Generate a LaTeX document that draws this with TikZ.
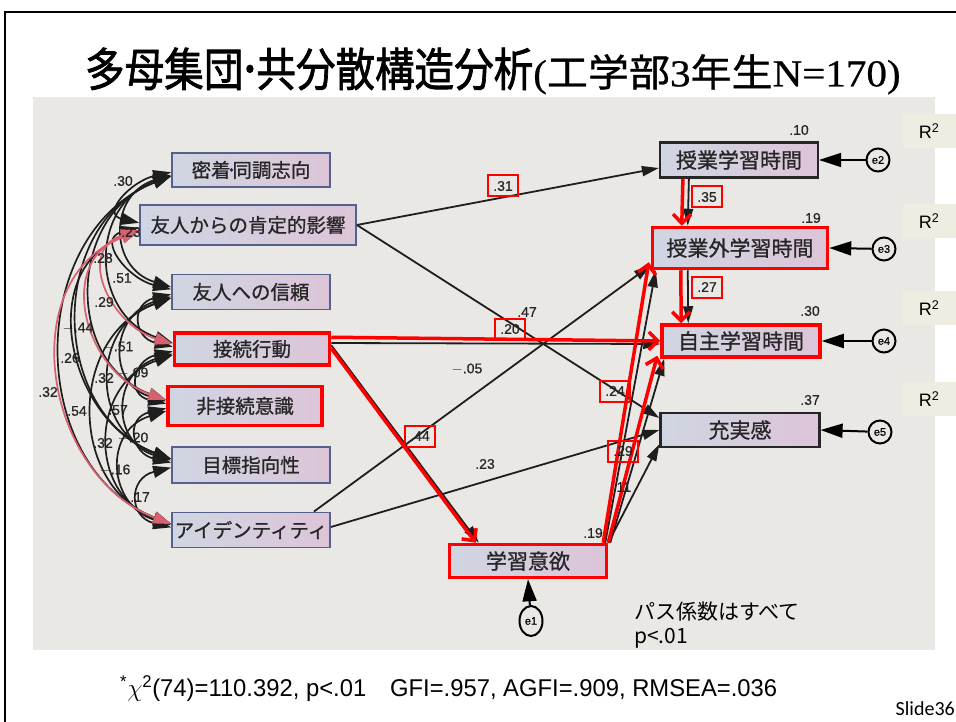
\documentclass[tikz,border=0pt]{standalone}
\usepackage{fontspec}
\setmainfont{Liberation Sans}
\newfontfamily\jp{Noto Sans CJK JP}
\newfontfamily\jpm[FakeBold=0.9]{Noto Sans CJK JP}
\newfontfamily\jpt[FakeBold=1.6]{Noto Sans CJK JP}
\newfontfamily\jps[FakeBold=0.8]{Noto Sans CJK JP}
\newfontfamily\tnrb[FakeBold=0.6]{Liberation Serif}
\newfontfamily\lab{Liberation Sans}
\newfontfamily\labm[FakeBold=0.6]{Liberation Sans}
\newfontfamily\slidefont{Carlito}
\usetikzlibrary{arrows.meta,calc,shapes.geometric}
\pgfdeclarelayer{bg}
\pgfsetlayers{bg,main}
\definecolor{photo}{HTML}{EAE8E5}
\definecolor{boxL}{HTML}{D0D5E2}
\definecolor{boxR}{HTML}{DCC5D8}
\definecolor{lline}{HTML}{56608C}
\definecolor{txtc}{HTML}{262626}
\definecolor{covk}{HTML}{1E1E1E}
\definecolor{covr}{HTML}{D8616F}
\definecolor{rbox}{HTML}{EFEDE2}
\definecolor{hl}{HTML}{FF0000}
\begin{document}
\begin{tikzpicture}[x=1pt,y=-1pt,
  lvar/.style={draw=lline, line width=1.8pt, left color=boxL, right color=boxR,
    font=\jpm\fontsize{19.5}{20}\selectfont, text=txtc, inner sep=0pt},
  rvar/.style={draw=black!85, line width=2.2pt, left color=boxL, right color=boxR,
    font=\jpm\fontsize{21}{22}\selectfont, text=txtc, inner sep=0pt},
  hlbox/.style={draw=hl, line width=3.5pt},
  cov/.style={line width=1.7pt, {Triangle[length=18pt,width=12pt]}-{Triangle[length=18pt,width=12pt]}},
  pth/.style={draw=covk, line width=1.8pt, -{Triangle[length=17pt,width=10pt]}},
  hlpath/.style={draw=hl, line width=3.5pt, -{Straight Barb[length=9pt,width=18pt]}},
  errc/.style={ellipse, draw=black, line width=2pt, minimum width=23pt, minimum height=23pt,
    inner sep=0pt, fill=photo, font=\labm\fontsize{11}{11}\selectfont},
  errpath/.style={draw=black, line width=2pt, -{Triangle[length=22pt,width=14pt]}},
  val/.style={font=\labm\fontsize{14}{14}\selectfont, text=txtc, inner sep=1pt},
  lbox/.style={val, draw=hl, line width=2pt, minimum width=30pt, minimum height=21pt, inner sep=0pt},
  rsq/.style={fill=rbox, minimum width=53pt, minimum height=34pt, inner sep=0pt,
    font=\lab\fontsize{18}{18}\selectfont}
]
\useasboundingbox (0,0) rectangle (956,722);

% slide frame
\draw[line width=1.5pt] (5,722) -- (5,12) -- (956,12);

% title
\node[anchor=west, inner sep=0pt] (title) at (85,71)
  {\scalebox{0.86}[1]{\jpt\fontsize{46}{48}\selectfont 多母集団{\kern-4pt}･{\kern-4pt}共分散構造分析}%
   \scalebox{1.08}[1]{\jps\fontsize{38}{42}\selectfont{\tnrb(}工学部{\tnrb 3}年生{\tnrb N=170)}}};

% left (exogenous) variables
\node[lvar, minimum width=158pt, minimum height=34pt] (n1) at (251,170) {密着{\kern-4pt}･{\kern-4pt}同調志向};
\node[lvar, minimum width=216pt, minimum height=40pt] (n2) at (248,225) {友人からの肯定的影響};
\node[lvar, minimum width=158pt, minimum height=35pt] (n3) at (251,292) {友人への信頼};
\node[lvar, hlbox, minimum width=155pt, minimum height=32pt] (n4) at (252,349) {接続行動};
\node[lvar, hlbox, minimum width=154pt, minimum height=39pt] (n5) at (245,406) {非接続意識};
\node[lvar, minimum width=158pt, minimum height=36pt] (n6) at (251,465) {目標指向性};
\node[lvar, minimum width=158pt, minimum height=35pt] (n7) at (251,530) {アイデンティティ};

% endogenous variables
\node[rvar, minimum width=158pt, minimum height=35pt] (r1) at (739,160) {授業学習時間};
\node[rvar, hlbox, minimum width=175pt, minimum height=41pt] (r2) at (740,248) {授業外学習時間};
\node[rvar, hlbox, minimum width=158pt, minimum height=32pt] (r3) at (741,341) {自主学習時間};
\node[rvar, minimum width=159pt, minimum height=34pt] (r4) at (740,430) {充実感};
\node[rvar, hlbox, minimum width=157pt, minimum height=33pt] (m) at (528,561) {学習意欲};

% error terms
\node[errc] (e2) at (878,160) {e2};
\node[errc] (e3) at (884,249) {e3};
\node[errc] (e4) at (884,341) {e4};
\node[errc] (e5) at (880,432) {e5};
\node[errc, minimum height=30pt] (e1) at (531,621) {e1};

% R^2 boxes
\node[rsq] (q1) at (929,131) {R\textsuperscript{2}};
\node[rsq] (q2) at (929,221) {R\textsuperscript{2}};
\node[rsq] (q3) at (929,308) {R\textsuperscript{2}};
\node[rsq] (q4) at (929,399) {R\textsuperscript{2}};

\begin{pgfonlayer}{bg}
\fill[photo] (33,97) rectangle (935,650);
\foreach \a/\b/\d/\col in {n1/n2/55/covk, n1/n3/122/covk, n1/n4/179/covk, n1/n5/236/covk,
  n1/n6/295/covk, n1/n7/360/covk, n2/n3/67/covk, n2/n6/240/covk, n3/n4/57/covk,
  n3/n5/114/covk, n3/n6/173/covk, n3/n7/238/covk, n4/n5/57/covk, n4/n6/116/covk,
  n4/n7/181/covk, n5/n6/59/covk, n5/n7/124/covk, n6/n7/65/covk,
  n2/n4/124/covr, n2/n5/181/covr, n2/n7/305/covr}{
  \pgfmathsetmacro{\cc}{0.35*\d+20}
  \pgfmathsetmacro{\oo}{0.16*\d}
  \pgfmathsetmacro{\ss}{min(6,0.04*\d)}
  \draw[cov, draw=\col] ($(\a.west)+(0,\ss)$) .. controls +(-\cc,\oo) and +(-\cc,-\oo) .. ($(\b.west)+(0,-\ss)$);
}
\end{pgfonlayer}

% covariance labels
\node[val] (c1) at (123,181) {.30};
\node[val] (c2) at (131,232) {.23};
\node[val] (c3) at (103,258) {.28};
\node[val] (c4) at (122,278) {.51};
\node[val] (c5) at (104,302) {.29};
\node[val] (c6) at (78,328) {$-$.44};
\node[val] (c7) at (118,347) {$-$.51};
\node[val] (c8) at (70,358) {.26};
\node[val] (c9) at (104,378) {.32};
\node[val] (c10) at (133,373) {$-$.09};
\node[val] (c11) at (48,392) {.32};
\node[val] (c12) at (77,411) {.54};
\node[val] (c13) at (118,410) {.57};
\node[val] (c14) at (103,443) {.32};
\node[val] (c15) at (133,438) {$-$.20};
\node[val] (c16) at (115,470) {$-$.16};
\node[val] (c17) at (140,497) {.17};

% black structural paths
\draw[pth] (n2.east) -- ($(r1.west)+(0,8)$);
\draw[pth] (n2.east) -- ($(r4.west)+(0,-12)$);
\draw[pth] ($(n7.north east)+(-17,0)$) -- ($(r2.south west)+(0,-5)$);
\draw[pth] ($(n7.east)+(0,-3)$) -- (r4.west);
\draw[pth] (m.north east) -- ($(r4.south west)+(0,-4)$);
\draw[pth] ($(m.north east)+(-3,0)$) -- ($(r2.south west)+(5,0)$);
\draw[pth] ($(m.north east)+(2,0)$) -- ($(r3.south west)+(4,0)$);
\draw[pth] ($(n4.east)+(0,-6)$) -- ($(r3.west)+(0,3)$);
\draw[pth] ($(n4.north east)+(0,14)$) -- ($(m.north west)+(31,0)$);
\draw[pth] ($(r1.south west)+(30,0)$) -- ($(r2.north west)+(37,0)$);
\draw[pth] ($(r2.south west)+(37,0)$) -- ($(r3.north west)+(28,0)$);

% red highlighted paths
\draw[hlpath] ($(r1.south west)+(24,0)$) -- ($(r2.north west)+(31,0)$);
\draw[hlpath] ($(r2.south west)+(30,0)$) -- ($(r3.north west)+(21,0)$);
\draw[hlpath] ($(n4.north east)+(0,6)$) -- ($(r3.west)+(0,0)$);
\draw[hlpath] ($(n4.north east)+(0,17)$) -- ($(m.north west)+(28,0)$);
\draw[hlpath] ($(m.north east)+(-5,0)$) -- ($(r2.south west)+(-2,-8)$);
\draw[hlpath] (m.north east) -- ($(r3.south west)+(-3,-3)$);

% error arrows
\draw[errpath] (e2) -- (r1.east);
\draw[errpath] (e3) -- (r2.east);
\draw[errpath] (e4) -- (r3.east);
\draw[errpath] (e5) -- (r4.east);
\draw[errpath] (e1) -- (m.south);

% R^2 values
\node[val] (v1) at (799,130) {.10};
\node[val] (v2) at (811,218) {.19};
\node[val] (v3) at (810,311) {.30};
\node[val] (v4) at (810,400) {.37};
\node[val] (v5) at (593,533) {.19};

% path coefficients
\node[lbox] (p31) at (503,186) {.31};
\node[lbox] (p35) at (707,197) {.35};
\node[lbox] (p27) at (707,287) {.27};
\node[val] (p47) at (527,312) {.47};
\node[lbox] (p20) at (510,329) {.20};
\node[val] (p05) at (467,369) {$-$.05};
\node[lbox] (p44) at (420,436) {.44};
\node[lbox] (p24) at (615,391) {.24};
\node[lbox] (p29) at (623,451) {.29};
\node[val] (p23) at (485,464) {.23};
\node[val] (p11) at (622,487) {.11};

% notes
\node[anchor=west, inner sep=0pt, font=\jp\fontsize{21}{24}\selectfont] (note1) at (634,612) {パス係数はすべて};
\node[anchor=west, inner sep=0pt, font=\jp\fontsize{21}{24}\selectfont] (note2) at (634,638) {p<.01};

\node[anchor=west, inner sep=0pt] (fit) at (120,689)
  {\resizebox{657pt}{21pt}{\lab\fontsize{20}{22}\selectfont \textsuperscript{*}$\chi$\textsuperscript{2}(74)=110.392, p<.01\quad GFI=.957, AGFI=.909, RMSEA=.036}};
\node[anchor=east, inner sep=0pt, font=\slidefont\fontsize{20}{22}\selectfont] (slide) at (955,709) {Slide36};
\end{tikzpicture}
\end{document}
